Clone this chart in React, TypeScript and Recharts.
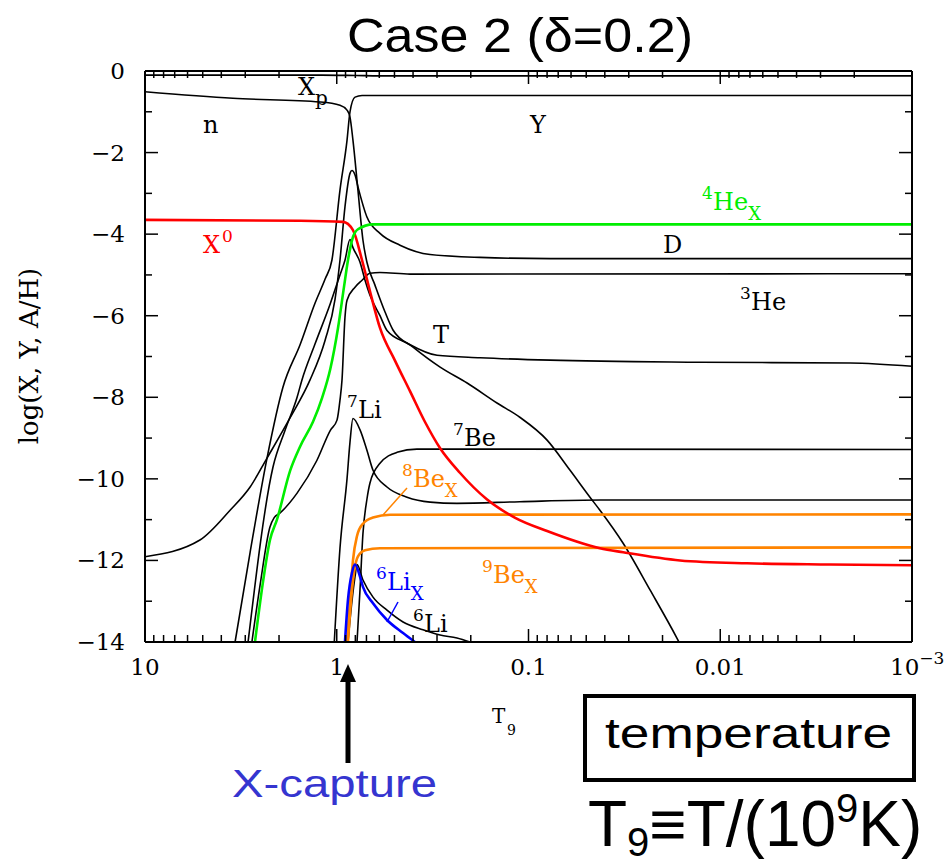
import React from "react";
import { LineChart, Line, XAxis, YAxis } from "recharts";

// abundances vs temperature, each row is [T9, log10 abundance]
const protonXp = [[10, -0.1], [1.2, -0.1], [0.8, -0.11], [0.6, -0.12], [0.001, -0.12]];
const neutron = [[10, -0.51], [3.48, -0.67], [1.22, -0.76], [0.962, -0.84], [0.884, -0.96], [0.853, -1.13], [0.823, -1.7], [0.775, -2.93], [0.73, -4.15], [0.696, -4.69], [0.632, -5.25], [0.56, -5.91], [0.509, -6.35], [0.4, -6.77], [0.289, -7.26], [0.209, -7.65], [0.146, -8.14], [0.111, -8.49], [0.08, -9.05], [0.0607, -9.79], [0.0478, -10.45], [0.0424, -10.77], [0.0321, -11.58], [0.0232, -12.73], [0.0168, -13.91], [0.016, -14.1]];
const helium4Y = [[3.39, -14], [2.83, -11.8], [2.31, -9.49], [1.91, -7.76], [1.55, -6.7], [1.3, -5.7], [1.15, -5.1], [1.06, -4.64], [0.962, -2.92], [0.884, -1.7], [0.853, -1.0], [0.803, -0.64], [0.738, -0.6], [0.001, -0.6]];
const deuterium = [[10, -11.91], [5.17, -11.5], [3.6, -10.77], [2.83, -10.2], [2.31, -9.49], [1.75, -8.5], [1.38, -7.58], [1.15, -6.6], [1.021, -5.6], [0.962, -4.64], [0.906, -3.33], [0.853, -2.51], [0.833, -2.44], [0.803, -2.55], [0.775, -2.84], [0.696, -3.58], [0.595, -3.98], [0.468, -4.27], [0.326, -4.5], [0.179, -4.57], [0.077, -4.6], [0.001, -4.6]];
const tritium = [[2.9, -14], [2.15, -9.71], [1.86, -8.81], [1.61, -8.0], [1.52, -7.58], [1.3, -6.7], [1.08, -5.7], [0.962, -5.0], [0.906, -4.64], [0.853, -4.13], [0.823, -4.33], [0.756, -4.69], [0.712, -5.13], [0.671, -5.5], [0.595, -6.0], [0.547, -6.36], [0.43, -6.67], [0.3, -6.97], [0.179, -7.03], [0.077, -7.09], [0.0128, -7.14], [0.0021, -7.16], [0.001, -7.24]];
const helium3 = [[2.77, -14], [2.51, -12.6], [2.23, -11.18], [2.12, -10.95], [1.98, -10.84], [1.61, -10.35], [1.27, -9.55], [1.08, -8.81], [0.997, -8.56], [0.962, -8.07], [0.939, -7.58], [0.906, -6.04], [0.884, -5.62], [0.803, -5.3], [0.738, -5.13], [0.671, -4.96], [0.595, -4.94], [0.415, -4.98], [0.001, -4.97]];
const lithium7 = [[1.03, -14], [0.962, -11.7], [0.884, -10.0], [0.853, -9.1], [0.823, -8.52], [0.756, -8.8], [0.696, -9.3], [0.647, -9.79], [0.547, -10.2], [0.43, -10.45], [0.326, -10.57], [0.236, -10.6], [0.111, -10.56], [0.042, -10.52], [0.001, -10.52]];
const beryllium7 = [[0.784, -14], [0.756, -12.7], [0.73, -11.34], [0.696, -10.5], [0.671, -10.1], [0.595, -9.62], [0.485, -9.35], [0.382, -9.27], [0.001, -9.28]];
const lithium6 = [[0.874, -14], [0.833, -13.0], [0.803, -12.4], [0.784, -12.1], [0.73, -12.48], [0.647, -12.9], [0.547, -13.22], [0.451, -13.51], [0.355, -13.7], [0.289, -13.83], [0.236, -13.9], [0.202, -14.0]];
const lithium6X = [[0.906, -14], [0.874, -12.97], [0.833, -12.3], [0.803, -12.1], [0.756, -12.4], [0.73, -12.65], [0.647, -13.05], [0.547, -13.46], [0.451, -13.78], [0.391, -14.0]];
const beryllium8X = [[0.884, -14], [0.853, -13.0], [0.823, -12.0], [0.784, -11.4], [0.73, -11.1], [0.647, -10.95], [0.527, -10.88], [0.001, -10.87]];
const beryllium9X = [[0.874, -14], [0.843, -13.0], [0.813, -12.3], [0.775, -11.9], [0.712, -11.75], [0.595, -11.7], [0.001, -11.68]];
const xNeutral = [[10, -3.65], [1.55, -3.67], [0.928, -3.7], [0.823, -3.9], [0.738, -4.64], [0.671, -5.4], [0.595, -6.3], [0.497, -7.1], [0.415, -7.85], [0.347, -8.6], [0.289, -9.25], [0.228, -9.85], [0.165, -10.5], [0.118, -10.95], [0.08, -11.28], [0.0424, -11.7], [0.0321, -11.8], [0.0162, -12.0], [0.00725, -12.07], [0.00268, -12.1], [0.001, -12.12]];
const helium4X = [[2.67, -14], [2.42, -12.5], [2.23, -11.5], [2.05, -11.0], [1.75, -9.8], [1.55, -9.2], [1.33, -8.6], [1.19, -8.0], [1.08, -7.3], [0.985, -6.3], [0.917, -5.3], [0.874, -4.64], [0.823, -4.07], [0.775, -3.88], [0.647, -3.76], [0.001, -3.76]];

const X_MAJOR = [10, 1, 0.1, 0.01, 0.001];
const X_LABELS = ["10", "1", "0.1", "0.01", "10"];
const X_TICKS: number[] = [10];
for (const b of [1, 0.1, 0.01, 0.001]) {
  for (let k = 9; k >= 1; k--) X_TICKS.push(+(k * b).toPrecision(3));
}
const Y_TICKS = [0, -1, -2, -3, -4, -5, -6, -7, -8, -9, -10, -11, -12, -13, -14];

const BLACK = "#000";
const SERIES = [
  { name: "Xp", rows: protonXp, color: BLACK, w: 1.6 },
  { name: "n", rows: neutron, color: BLACK, w: 1.6 },
  { name: "Y", rows: helium4Y, color: BLACK, w: 1.6 },
  { name: "D", rows: deuterium, color: BLACK, w: 1.6 },
  { name: "T", rows: tritium, color: BLACK, w: 1.6 },
  { name: "3He", rows: helium3, color: BLACK, w: 1.6 },
  { name: "7Li", rows: lithium7, color: BLACK, w: 1.6 },
  { name: "7Be", rows: beryllium7, color: BLACK, w: 1.6 },
  { name: "6Li", rows: lithium6, color: BLACK, w: 1.6 },
  { name: "8BeX", rows: beryllium8X, color: "#ff8400", w: 2.6 },
  { name: "9BeX", rows: beryllium9X, color: "#ff8400", w: 2.6 },
  { name: "6LiX", rows: lithium6X, color: "#0000ff", w: 2.6 },
  { name: "X0", rows: xNeutral, color: "#ff0000", w: 2.6 },
  { name: "4HeX", rows: helium4X, color: "#00ee00", w: 2.6 },
];

const SERIF = "'DejaVu Serif', serif";
const SANS = "'Liberation Sans', Arial, sans-serif";

const majorIndex = (v: number) => X_MAJOR.findIndex((m) => Math.abs(v / m - 1) < 1e-6);

function BottomTick(props: any) {
  const { x, y, payload } = props;
  const i = majorIndex(payload.value);
  return (
    <g>
      <line x1={x} x2={x} y1={y} y2={y - (i >= 0 ? 13 : 7)} stroke={BLACK} strokeWidth={1.5} />
      {i === 4 && (
        <text x={x - 22} y={y + 33} fontFamily={SERIF} fontSize={23} fill={BLACK}>
          10<tspan dy={-11} fontSize={17}>−3</tspan>
        </text>
      )}
      {i >= 0 && i < 4 && (
        <text x={x} y={y + 33} textAnchor="middle" fontFamily={SERIF} fontSize={23} fill={BLACK}>
          {X_LABELS[i]}
        </text>
      )}
    </g>
  );
}

function TopTick(props: any) {
  const { x, y, payload } = props;
  const i = majorIndex(payload.value);
  return <line x1={x} x2={x} y1={y} y2={y + (i >= 0 ? 13 : 7)} stroke={BLACK} strokeWidth={1.5} />;
}

function LeftTick(props: any) {
  const { x, y, payload } = props;
  const v = payload.value as number;
  const major = v % 2 === 0;
  return (
    <g>
      <line x1={x} x2={x + (major ? 13 : 7)} y1={y} y2={y} stroke={BLACK} strokeWidth={1.5} />
      {major && (
        <text x={x - 20} y={y + 8} textAnchor="end" fontFamily={SERIF} fontSize={23} fill={BLACK}>
          {v === 0 ? "0" : `\u2212${Math.abs(v)}`}
        </text>
      )}
    </g>
  );
}

function RightTick(props: any) {
  const { x, y, payload } = props;
  const major = (payload.value as number) % 2 === 0;
  return <line x1={x} x2={x - (major ? 13 : 7)} y1={y} y2={y} stroke={BLACK} strokeWidth={1.5} />;
}

const frame = { stroke: BLACK, strokeWidth: 2 };

function Sym({ x, y, sup, main, sub, color = BLACK }: any) {
  // isotope label: superscript mass number, element, optional subscript
  return (
    <text fontFamily={SERIF} fill={color}>
      {sup && <tspan x={x} y={y - 11} fontSize={17}>{sup}</tspan>}
      <tspan x={sup ? x + 11 : x} y={y} fontSize={24}>{main}</tspan>
      {sub && <tspan dy={10} fontSize={18}>{sub}</tspan>}
    </text>
  );
}

export default function App() {
  return (
    <div style={{ position: "absolute", left: 0, top: 0, width: 947, height: 868, background: "#fff" }}>
      <LineChart width={947} height={868} margin={{ top: 0, right: 0, bottom: 0, left: 0 }}>
        <XAxis
          xAxisId="bottom"
          dataKey="t"
          type="number"
          scale="log"
          domain={[0.001, 10]}
          reversed
          allowDataOverflow
          ticks={X_TICKS}
          interval={0}
          tick={(p: any) => <BottomTick {...p} />}
          tickLine={false}
          tickSize={0}
          tickMargin={0}
          axisLine={frame}
          height={226}
        />
        <XAxis
          xAxisId="top"
          orientation="top"
          dataKey="t"
          type="number"
          scale="log"
          domain={[0.001, 10]}
          reversed
          allowDataOverflow
          ticks={X_TICKS}
          interval={0}
          tick={(p: any) => <TopTick {...p} />}
          tickLine={false}
          tickSize={0}
          tickMargin={0}
          axisLine={frame}
          height={71}
        />
        <YAxis
          yAxisId="left"
          type="number"
          domain={[-14, 0]}
          allowDataOverflow
          ticks={Y_TICKS}
          interval={0}
          tick={(p: any) => <LeftTick {...p} />}
          tickLine={false}
          tickSize={0}
          tickMargin={0}
          axisLine={frame}
          width={145}
        />
        <YAxis
          yAxisId="right"
          orientation="right"
          type="number"
          domain={[-14, 0]}
          allowDataOverflow
          ticks={Y_TICKS}
          interval={0}
          tick={(p: any) => <RightTick {...p} />}
          tickLine={false}
          tickSize={0}
          tickMargin={0}
          axisLine={frame}
          width={35}
        />
        {SERIES.map((s) => (
          <Line
            key={s.name}
            name={s.name}
            xAxisId="bottom"
            yAxisId="left"
            data={s.rows.map(([t, v]) => ({ t, v }))}
            dataKey="v"
            type="monotone"
            stroke={s.color}
            strokeWidth={s.w}
            dot={false}
            activeDot={false}
            isAnimationActive={false}
          />
        ))}
      </LineChart>
      <svg width={947} height={868} style={{ position: "absolute", left: 0, top: 0, pointerEvents: "none" }}>
        <text x={347} y={52} fontFamily={SANS} fontSize={48} textLength={346} lengthAdjust="spacingAndGlyphs">
          Case 2 (δ=0.2)
        </text>
        <text
          x={38}
          y={356}
          transform="rotate(-90 38 356)"
          textAnchor="middle"
          fontFamily={SERIF}
          fontSize={26}
        >
          log(X, Y, A/H)
        </text>

        <text fontFamily={SERIF}>
          <tspan x={298} y={95} fontSize={24}>X</tspan>
          <tspan x={315} y={105} fontSize={20}>p</tspan>
        </text>
        <Sym x={203} y={133} main="n" />
        <Sym x={530} y={133} main="Y" />
        <Sym x={702} y={210} sup="4" main="He" sub="X" color="#00ee00" />
        <Sym x={663} y={253} main="D" />
        <Sym x={740} y={310} sup="3" main="He" />
        <Sym x={433} y={343} main="T" />
        <text fontFamily={SERIF} fill="#ff0000">
          <tspan x={203} y={253} fontSize={24}>X</tspan>
          <tspan x={222} y={242} fontSize={17}>0</tspan>
        </text>
        <Sym x={347} y={418} sup="7" main="Li" />
        <Sym x={453} y={446} sup="7" main="Be" />
        <Sym x={402} y={487} sup="8" main="Be" sub="X" color="#ff8400" />
        <Sym x={482} y={583} sup="9" main="Be" sub="X" color="#ff8400" />
        <Sym x={376} y={590} sup="6" main="Li" sub="X" color="#0000ff" />
        <Sym x={413} y={632} sup="6" main="Li" />
        <line x1={383} y1={515} x2={407} y2={488} stroke="#ff8400" strokeWidth={1.5} />
        <line x1={387} y1={622} x2={398} y2={602} stroke="#0000ff" strokeWidth={1.5} />

        <text fontFamily={SERIF}>
          <tspan x={492} y={723} fontSize={20}>T</tspan>
          <tspan x={507} y={735} fontSize={14}>9</tspan>
        </text>

        <line x1={348} y1={763} x2={348} y2={678} stroke={BLACK} strokeWidth={5} />
        <polygon points="340,682 356,682 348,664" fill={BLACK} />
        <text x={232} y={797} fontFamily={SANS} fontSize={38} fill="#3535d0" textLength={205} lengthAdjust="spacingAndGlyphs">
          X-capture
        </text>

        <rect x={585} y={696} width={329} height={84} fill="none" stroke={BLACK} strokeWidth={4} />
        <text x={605} y={748} fontFamily={SANS} fontSize={42} textLength={287} lengthAdjust="spacingAndGlyphs">
          temperature
        </text>
        <text fontFamily={SANS} fontSize={64}>
          <tspan x={588} y={846}>T</tspan>
          <tspan dy={10} fontSize={40}>9</tspan>
          <tspan dy={-10}>≡T/(10</tspan>
          <tspan dy={-24} fontSize={40}>9</tspan>
          <tspan dy={24}>K)</tspan>
        </text>
      </svg>
    </div>
  );
}
